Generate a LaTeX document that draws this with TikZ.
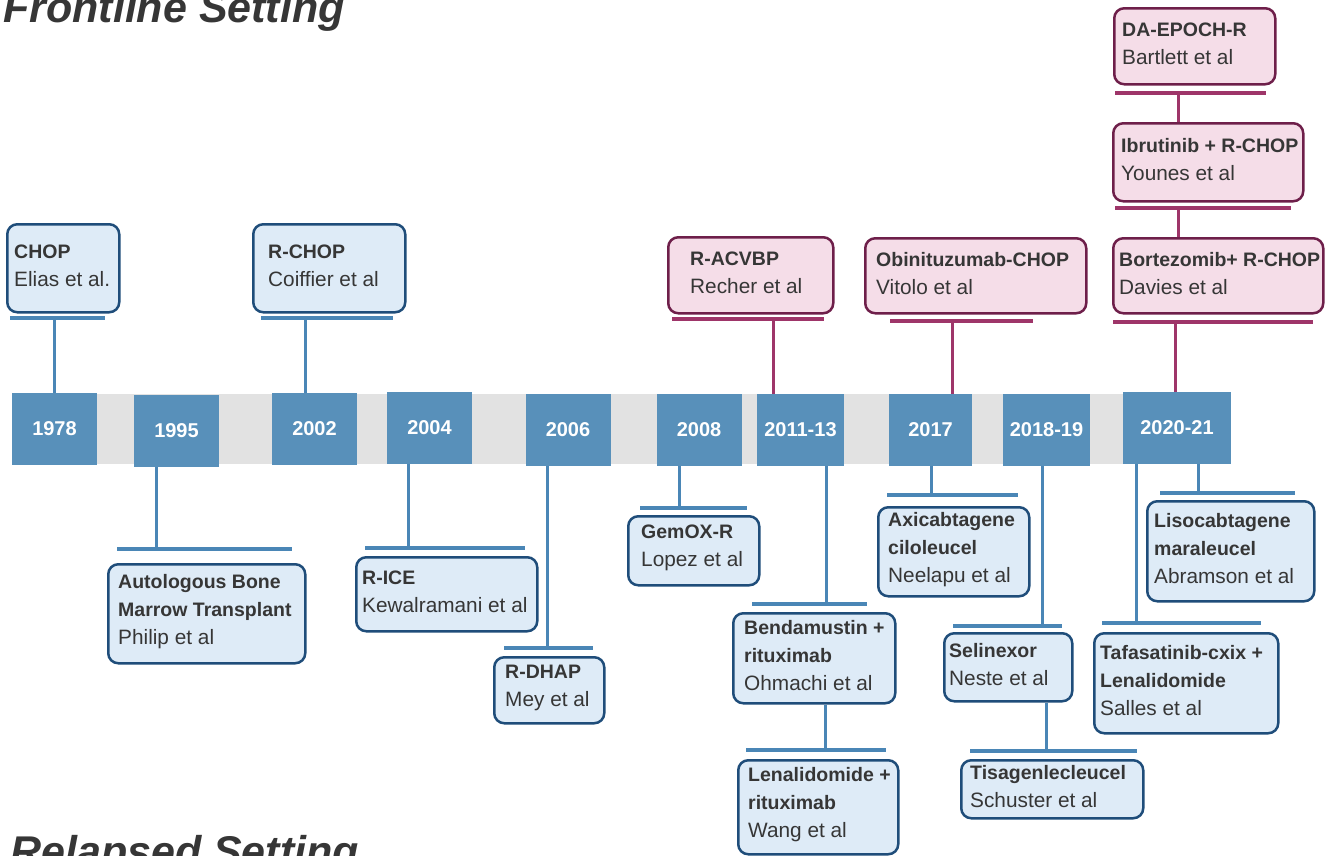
\documentclass[tikz,border=0pt]{standalone}
\usepackage{fontspec}
\setmainfont{Liberation Sans}
\definecolor{yearblue}{HTML}{5890BA}
\definecolor{bandgray}{HTML}{E2E2E2}
\definecolor{linkblue}{HTML}{4A86B6}
\definecolor{carddark}{HTML}{1F4D7A}
\definecolor{cardlight}{HTML}{DEEBF7}
\definecolor{pinkdark}{HTML}{6E1F4A}
\definecolor{pinklight}{HTML}{F5DDE8}
\definecolor{linkpink}{HTML}{9E3569}
\definecolor{textgray}{HTML}{363636}
\newcommand\drug[1]{{\fontsize{19.5}{28}\selectfont\bfseries #1}}
\tikzset{
    year/.style={fill=yearblue, text=white, font=\fontsize{20}{24}\selectfont\bfseries, minimum height=72pt, inner sep=0pt},
    bluecard/.style={draw=carddark, fill=cardlight, line width=2.5pt, rounded corners=10pt, anchor=north west, inner sep=0pt},
    pinkcard/.style={draw=pinkdark, fill=pinklight, line width=2.5pt, rounded corners=10pt, anchor=north west, inner sep=0pt},
    cardtext/.style={anchor=west, align=left, inner sep=0pt, yshift=2.5pt, text=textgray, font=\fontsize{20.8}{28}\selectfont},
    bluebar/.style={draw=linkblue, line width=4pt},
    pinkbar/.style={draw=linkpink, line width=4pt},
    bluelink/.style={draw=linkblue, line width=3pt},
    pinklink/.style={draw=linkpink, line width=3pt},
    heading/.style={anchor=base west, inner sep=0pt, text=textgray, font=\fontsize{43}{50}\selectfont\bfseries\itshape}
}

\begin{document}
\begin{tikzpicture}[x=1pt, y=-1pt]
    \useasboundingbox (0,0) rectangle (1326,855);
    \clip (0,0) rectangle (1326,855);

    \node [heading] (front) at (3,22) {Frontline Setting};
    \node [heading] (relapse) at (10,866) {Relapsed Setting};

    % timeline
    \fill [bandgray] (12,394) rectangle (1231,464);
    \node [year, minimum width=85pt] (y1978) at (54.5,429) {1978};
    \node [year, minimum width=85pt] (y1995) at (176.5,431) {1995};
    \node [year, minimum width=85pt] (y2002) at (314.5,429) {2002};
    \node [year, minimum width=85pt] (y2004) at (429.5,428) {2004};
    \node [year, minimum width=85pt] (y2006) at (568,430) {2006};
    \node [year, minimum width=85pt] (y2008) at (699,430) {2008};
    \node [year, minimum width=87pt] (y2011) at (800.5,430) {2011-13};
    \node [year, minimum width=83pt] (y2017) at (930.5,430) {2017};
    \node [year, minimum width=87pt] (y2018) at (1046.5,430) {2018-19};
    \node [year, minimum width=108pt] (y2020) at (1177,428) {2020-21};

    % frontline, above the band
    \node [bluecard, minimum width=112pt, minimum height=88pt] (chop) at (6,223) {};
    \node [cardtext] (chop-t) at ([xshift=8pt]chop.west) {\drug{CHOP}\\Elias et al.};
    \coordinate (chop-bar) at (54,318);
    \draw [bluebar] (10,318) -- (105,318);
    \draw [bluelink] (chop-bar) -- (chop-bar |- y1978.north);

    \node [bluecard, minimum width=152pt, minimum height=88pt] (rchop) at (252,223) {};
    \node [cardtext] (rchop-t) at ([xshift=16pt]rchop.west) {\drug{R-CHOP}\\Coiffier et al};
    \coordinate (rchop-bar) at (305,318);
    \draw [bluebar] (261,318) -- (393,318);
    \draw [bluelink] (rchop-bar) -- (rchop-bar |- y2002.north);

    \node [pinkcard, minimum width=165pt, minimum height=76pt] (racvbp) at (667,236) {};
    \node [cardtext] (racvbp-t) at ([xshift=23pt]racvbp.west) {\drug{R-ACVBP}\\Recher et al};
    \coordinate (racvbp-bar) at (773,319);
    \draw [pinkbar] (672,319) -- (824,319);
    \draw [pinklink] (racvbp-bar) -- (racvbp-bar |- y2011.north);

    \node [pinkcard, minimum width=221pt, minimum height=75pt] (obin) at (864,237) {};
    \node [cardtext] (obin-t) at ([xshift=12pt]obin.west) {\drug{Obinituzumab-CHOP}\\Vitolo et al};
    \coordinate (obin-bar) at (952,321);
    \draw [pinkbar] (890,321) -- (1033,321);
    \draw [pinklink] (obin-bar) -- (obin-bar |- y2017.north);

    \node [pinkcard, minimum width=161pt, minimum height=76pt] (daepoch) at (1113,7) {};
    \node [cardtext] (daepoch-t) at ([xshift=9pt]daepoch.west) {\drug{DA-EPOCH-R}\\Bartlett et al};
    \node [pinkcard, minimum width=190pt, minimum height=78pt] (ibru) at (1112,122) {};
    \node [cardtext] (ibru-t) at ([xshift=9pt]ibru.west) {\drug{Ibrutinib + R-CHOP}\\Younes et al};
    \node [pinkcard, minimum width=210pt, minimum height=75pt] (bortez) at (1112,237) {};
    \node [cardtext] (bortez-t) at ([xshift=7pt]bortez.west) {\drug{Bortezomib+ R-CHOP}\\Davies et al};
    \coordinate (daepoch-bar) at (1178,93);
    \coordinate (ibru-bar) at (1178,208);
    \coordinate (bortez-bar) at (1175,322);
    \draw [pinkbar] (1115,93) -- (1266,93);
    \draw [pinkbar] (1115,208) -- (1291,208);
    \draw [pinkbar] (1113,322) -- (1313,322);
    \draw [pinklink] (daepoch-bar) -- (daepoch-bar |- ibru.north);
    \draw [pinklink] (ibru-bar) -- (ibru-bar |- bortez.north);
    \draw [pinklink] (bortez-bar) -- (bortez-bar |- y2020.north);

    % relapsed, below the band
    \node [bluecard, minimum width=197pt, minimum height=99pt] (abmt) at (107,563) {};
    \node [cardtext] (abmt-t) at ([xshift=11pt]abmt.west) {\drug{Autologous Bone}\\\drug{Marrow Transplant}\\Philip et al};
    \coordinate (abmt-bar) at (156,549);
    \draw [bluebar] (117,549) -- (292,549);
    \draw [bluelink] (y1995.south -| abmt-bar) -- (abmt-bar);

    \node [bluecard, minimum width=181pt, minimum height=74pt] (rice) at (355,556) {};
    \node [cardtext] (rice-t) at ([xshift=7pt]rice.west) {\drug{R-ICE}\\Kewalramani et al};
    \coordinate (rice-bar) at (408,548);
    \draw [bluebar] (365,548) -- (525,548);
    \draw [bluelink] (y2004.south -| rice-bar) -- (rice-bar);

    \node [bluecard, minimum width=110pt, minimum height=66pt] (rdhap) at (493,656) {};
    \node [cardtext] (rdhap-t) at ([xshift=12pt]rdhap.west) {\drug{R-DHAP}\\Mey et al};
    \coordinate (rdhap-bar) at (547,648);
    \draw [bluebar] (504,648) -- (593,648);
    \draw [bluelink] (y2006.south -| rdhap-bar) -- (rdhap-bar);

    \node [bluecard, minimum width=131pt, minimum height=69pt] (gemox) at (627,515) {};
    \node [cardtext] (gemox-t) at ([xshift=14pt]gemox.west) {\drug{GemOX-R}\\Lopez et al};
    \coordinate (gemox-bar) at (679,508);
    \draw [bluebar] (640,508) -- (747,508);
    \draw [bluelink] (y2008.south -| gemox-bar) -- (gemox-bar);

    \node [bluecard, minimum width=162pt, minimum height=90pt] (benda) at (732,612) {};
    \node [cardtext] (benda-t) at ([xshift=12pt]benda.west) {\drug{Bendamustin +}\\\drug{rituximab}\\Ohmachi et al};
    \coordinate (benda-bar) at (826,604);
    \draw [bluebar] (752,604) -- (867,604);
    \draw [bluelink] (y2011.south -| benda-bar) -- (benda-bar);

    \node [bluecard, minimum width=160pt, minimum height=94pt] (lenal) at (737,759) {};
    \node [cardtext] (lenal-t) at ([xshift=11pt]lenal.west) {\drug{Lenalidomide +}\\\drug{rituximab}\\Wang et al};
    \coordinate (lenal-bar) at (825,750);
    \draw [bluebar] (746,750) -- (886,750);
    \draw [bluelink] (benda.south -| lenal-bar) -- (lenal-bar);

    \node [bluecard, minimum width=151pt, minimum height=89pt] (axi) at (877,506) {};
    \node [cardtext] (axi-t) at ([xshift=11pt]axi.west) {\drug{Axicabtagene}\\\drug{ciloleucel}\\Neelapu et al};
    \coordinate (axi-bar) at (931,495);
    \draw [bluebar] (887,495) -- (1018,495);
    \draw [bluelink] (y2017.south -| axi-bar) -- (axi-bar);

    \node [bluecard, minimum width=128pt, minimum height=68pt] (selin) at (943,632) {};
    \node [cardtext] (selin-t) at ([xshift=6pt]selin.west) {\drug{Selinexor}\\Neste et al};
    \coordinate (selin-bar) at (1042,626);
    \draw [bluebar] (953,626) -- (1062,626);
    \draw [bluelink] (y2018.south -| selin-bar) -- (selin-bar);

    \node [bluecard, minimum width=182pt, minimum height=58pt] (tisa) at (960,759) {};
    \node [cardtext] (tisa-t) at ([xshift=10pt]tisa.west) {\drug{Tisagenlecleucel}\\Schuster et al};
    \coordinate (tisa-bar) at (1046,751);
    \draw [bluebar] (970,751) -- (1137,751);
    \draw [bluelink] (selin.south -| tisa-bar) -- (tisa-bar);

    \node [bluecard, minimum width=167pt, minimum height=100pt] (liso) at (1146,500) {};
    \node [cardtext] (liso-t) at ([xshift=8pt]liso.west) {\drug{Lisocabtagene}\\\drug{maraleucel}\\Abramson et al};
    \coordinate (liso-bar) at (1198,493);
    \draw [bluebar] (1160,493) -- (1295,493);
    \draw [bluelink] (y2020.south -| liso-bar) -- (liso-bar);

    \node [bluecard, minimum width=184pt, minimum height=100pt] (tafa) at (1093,632) {};
    \node [cardtext] (tafa-t) at ([xshift=7pt]tafa.west) {\drug{Tafasatinib-cxix +}\\\drug{Lenalidomide}\\Salles et al};
    \coordinate (tafa-bar) at (1136,623);
    \draw [bluebar] (1102,623) -- (1261,623);
    \draw [bluelink] (y2020.south -| tafa-bar) -- (tafa-bar);
\end{tikzpicture}
\end{document}
